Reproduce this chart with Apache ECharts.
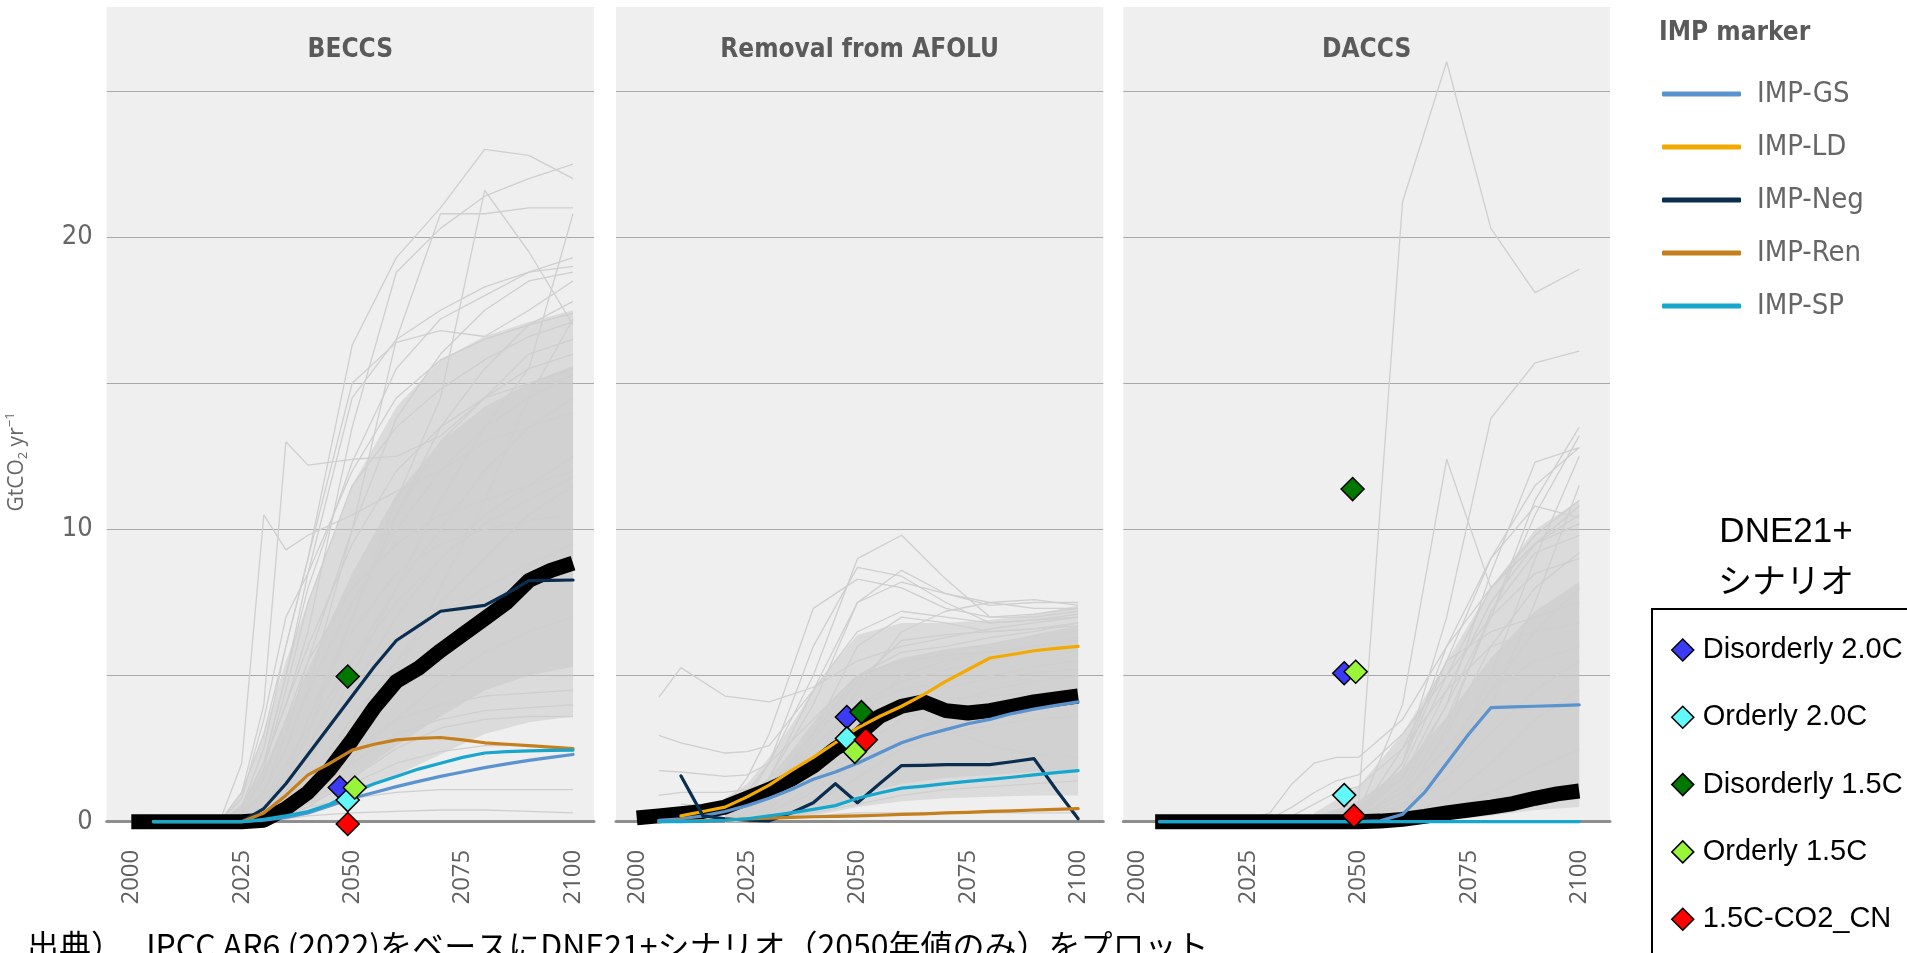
<!DOCTYPE html>
<html><head><meta charset="utf-8">
<script src="https://cdn.jsdelivr.net/npm/echarts@6/dist/echarts.min.js"></script>
<style>html,body{margin:0;padding:0;background:#fff}#c{width:1907px;height:953px}</style>
</head><body><div id="c"></div>
<script>
// ---------------- data ----------------
const PANELS = ['BECCS', 'Removal from AFOLU', 'DACCS'];
const YEAR_TICKS = [2000, 2025, 2050, 2075, 2100];
const Y_TICK_LABELS = [0, 10, 20];
const IMP_NAMES = ['IMP-GS', 'IMP-LD', 'IMP-Neg', 'IMP-Ren', 'IMP-SP'];
const SCEN_NAMES = ['Disorderly 2.0C', 'Orderly 2.0C', 'Disorderly 1.5C', 'Orderly 1.5C', '1.5C-CO2_CN'];

// IMP pathways
const IMP_YEARS = [2005,2010,2015,2020,2025,2030,2035,2040,2045,2050,2055,2060,2065,2070,2075,2080,2085,2090,2095,2100];
const beccsImpGS  = [0,0,0,0,0,0.05,0.15,0.3,0.55,0.8,1.0,1.2,1.38,1.55,1.7,1.85,1.98,2.1,2.2,2.3];
const beccsImpNeg = [0,0,0,0,0,0.45,1.3,2.3,3.3,4.3,5.3,6.2,6.7,7.2,7.3,7.4,7.8,8.25,8.26,8.27];
const beccsImpRen = [0,0,0,0,0,0.3,0.9,1.6,2.0,2.45,2.65,2.8,2.85,2.88,2.8,2.7,2.65,2.6,2.55,2.5];
const beccsImpSP  = [0,0,0,0,0,0.08,0.2,0.35,0.6,1.0,1.3,1.55,1.8,2.0,2.2,2.35,2.4,2.42,2.44,2.45];
const afoluImpGS  = [0.05,0.1,0.2,0.35,0.55,0.8,1.1,1.45,1.7,2.0,2.35,2.7,2.95,3.15,3.35,3.5,3.7,3.85,3.98,4.1];
const afoluImpLD  = [null,0.2,0.35,0.5,0.85,1.25,1.75,2.2,2.7,3.2,3.6,3.95,4.35,4.8,5.2,5.6,5.72,5.85,5.93,6.0];
const afoluImpNeg = [null,1.57,0.2,0.1,0.05,0.03,0.3,0.65,1.3,0.65,1.3,1.92,1.93,1.95,1.95,1.95,2.05,2.16,1.1,0.1];
const afoluImpRen = [0,0.02,0.03,0.05,0.1,0.12,0.15,0.17,0.18,0.2,0.22,0.25,0.27,0.3,0.32,0.35,0.37,0.4,0.42,0.45];
const afoluImpSP  = [0,0,0.02,0.05,0.1,0.2,0.3,0.42,0.55,0.8,0.98,1.15,1.22,1.3,1.38,1.45,1.52,1.6,1.68,1.75];
const daccsImpGS  = [0,0,0,0,0,0,0,0,0,0,0.03,0.25,1.0,2.0,3.0,3.9,3.93,3.95,3.97,4.0];
const daccsImpSP  = [0,0,0,0,0,0,0,0,0,0,0,0,0,0,0,0,0,0,0,0];

// DNE21+ model pathway (thick black)
const DNE_YEARS = [2000,2005,2010,2015,2020,2025,2030,2035,2040,2045,2050,2055,2060,2065,2070,2075,2080,2085,2090,2095,2100];
const DACCS_DNE_YEARS = [2004,2010,2015,2020,2025,2030,2035,2040,2045,2050,2055,2060,2065,2070,2075,2080,2085,2090,2095,2100];
const beccsDne = [0,0,0,0,0,0,0.05,0.45,1.0,1.8,2.8,3.9,4.8,5.25,5.85,6.4,6.95,7.5,8.25,8.6,8.85];
const afoluDne = [0.13,0.2,0.27,0.35,0.5,0.8,1.1,1.45,1.9,2.5,2.95,3.6,3.95,4.1,3.8,3.72,3.8,3.95,4.1,4.2,4.3];
const daccsDne = [0,0,0,0,0,0,0,0,0,0,0.02,0.08,0.18,0.3,0.4,0.5,0.62,0.8,0.95,1.05];

// DNE21+ scenario 2050 values [year, value]
const beccsMarkers = [[2047.2,1.17],[2049,0.74],[2049,4.97],[2050.6,1.17],[2049,-0.08]];
const afoluMarkers = [[2047.6,3.58],[2047.6,2.85],[2050.9,3.75],[2049.4,2.39],[2051.9,2.80]];
const daccsMarkers = [[2046.8,5.08],[2046.8,0.91],[2048.7,11.38],[2049.4,5.13],[2049,0.2]];

// AR6 scenario ensemble (grey)
const BECCS_GREY_YEARS = [2020,2025,2030,2035,2040,2050,2060,2070,2080,2090,2100];
const beccsGrey = [
 [0,1,3,6,9,16.3,19.3,21.0,23.0,22.8,22.0],
 [0,0.5,2,4,6.5,13.5,18.8,20.3,21.4,22.0,22.5],
 [0,0.3,1,2.5,4.5,10,16.5,20.8,20.8,21.0,21.0],
 [0,0,0.5,1.5,3,7,11,14.5,21.6,19.5,17.0],
 [0,0,0.3,1,2,5,8,11,13.5,15.5,20.8],
 [0,2,10.5,9.3,9.8,10.5,11.3,12,13,13.5,14],
 [0,1,4,13.0,12.2,12.4,12.5,13.2,14.5,15.5,16],
 [0,0.5,2,5,8,12.3,15.5,17.2,18.0,18.8,19.3],
 [0,0.2,1,3,5.5,10,13.8,16.0,17.5,18.5,18.8],
 [0,0,0.5,1.5,3,7,10.5,13.5,15.5,17.0,17.8],
 [0,0,0.2,0.5,1,2.5,5,8,11,14.5,17.2],
 [0,0,0,0.1,0.2,0.3,0.35,0.4,0.4,0.35,0.3],
 [0,0,0.1,0.3,0.5,0.8,1.0,1.1,1.1,1.1,1.1],
 [0,0,0.1,0.3,0.6,1.3,2.0,2.4,2.6,2.6,2.5],
 [0,0,0.2,0.6,1.2,2.5,3.5,4.0,4.3,4.4,4.5],
 [0,0.3,1.5,3.5,5.5,8,9.5,10.5,11,11.5,12],
 [0,0,0.3,1.0,2.0,4.5,7,9,10.5,11.5,12.5],
 [0,0,0.5,1.5,3.5,6.5,8.5,9.5,10.0,10.3,10.5],
 [0,0,0.2,0.8,1.5,3.5,5.5,7,8,8.8,9.5],
 [0,0.5,2,4,6,9.5,12,13.5,14.5,15,15.5],
 [0,0,0.3,1,2.5,5.5,8,10,12,13.5,14.5],
 [0,0,0.1,0.4,1,2.2,3.5,4.8,5.8,6.5,7.0],
 [0,0,0.2,0.6,1.5,3.5,5.5,7.5,9,10.5,11.5],
 [0,0.2,1,2.5,4.5,7.5,10,12,13.5,14.5,15.3],
 [0,0,0.5,1.8,3.5,7,10.5,13,14.5,16,16.5],
 [0,0.5,2,5,8.5,14.5,16.5,17.5,18.3,18.8,19.0],
 [0,0.5,2.5,6,9,15,16.4,16.8,16.6,17.5,18.5],
 [0,0,0.1,0.3,0.8,2,3,3.5,3.8,3.9,4.0],
 [0,0,0,0.2,0.5,1.5,2.5,3.2,3.5,3.6,3.6],
 [0,0.1,0.8,2,3.2,5.5,7.5,9,10.2,11,11.8],
 [0,0.8,3.5,7,8.5,12,14.5,15.8,16.5,17.0,17.4],
 [0,0.3,1.8,4.5,7.5,11.5,13.5,14.8,15.8,16.6,17.1]
];
const BECCS_BAND_YEARS = [2020,2025,2030,2035,2040,2050,2060,2070,2080,2090,2100];
const beccsBandLow  = [0,0,0.05,0.2,0.4,0.9,1.6,2.3,3.0,3.4,3.6];
const beccsBandHigh = [0,1.0,3.0,5.5,7.5,11.5,14.2,15.8,16.6,17.1,17.5];
const beccsCoreLow  = [0,0,0.1,0.3,0.6,1.5,2.6,3.6,4.5,5.0,5.3];
const beccsCoreHigh = [0,0.6,1.8,3.5,5.2,8.5,11.2,13.0,14.2,15.0,15.6];

const AFOLU_GREY_YEARS = [2005,2010,2020,2025,2030,2040,2050,2060,2070,2080,2090,2100];
const afoluGrey = [
 [null,null,0.5,1,2,5,9.0,9.8,8.3,7.0,7.0,7.2],
 [4.25,5.27,4.3,4.2,4.1,4.6,5.5,6.0,6.3,6.6,6.8,7.0],
 [2.95,2.7,2.35,2.4,2.6,4.5,6.5,7.2,7.0,6.8,6.9,7.0],
 [1.75,1.7,1.55,1.6,2.0,3.5,5.0,5.8,6.0,6.3,6.5,6.8],
 [null,null,0.3,0.8,2,6,8.7,8.4,7.5,6.8,6.9,7.1],
 [null,null,0.5,1.5,3,7.3,8.3,8.0,7.3,7.0,7.1,7.3],
 [null,null,0.2,0.5,1.5,4,7.5,8.6,7.8,7.4,7.5,7.5],
 [null,null,0,0.2,0.6,2,4.5,6.5,7.2,7.5,7.6,7.4],
 [null,null,0,0.1,0.3,1,2.5,3.5,4,4.5,4.8,5],
 [null,null,0,0.1,0.2,0.6,1.5,2.5,3.0,3.3,3.5,3.6],
 [null,null,0,0,0.1,0.3,0.6,0.9,1.1,1.2,1.3,1.4],
 [null,null,0,0,0.1,0.2,0.3,0.3,0.3,0.3,0.3,0.3],
 [null,null,0.3,0.6,1.2,3,5,5.5,5.7,5.8,6.0,6.2],
 [null,null,0,0.2,0.5,1.5,3.5,5,5.5,5.8,6.0,6.3],
 [null,null,0.1,0.3,0.8,2.5,4,4.5,4.8,5.0,5.3,5.5],
 [null,null,0,0.1,0.3,1,2,2.8,3.5,4,4.3,4.5],
 [null,null,0.3,0.7,1.5,4.5,7.5,8.2,7.8,7.5,7.3,7.3],
 [null,null,0,0.3,1,3,6,7,6.8,6.5,6.6,6.8],
 [null,0.6,0.5,0.6,0.9,2.2,3.5,4.0,4.2,4.3,4.4,4.5],
 [null,null,0,0.1,0.3,1.2,2.8,3.8,3.2,2.6,2.3,2.2],
 [0.9,1.0,1.0,1.1,1.3,2.5,4.0,4.8,5.2,5.5,5.8,6.0],
 [null,null,0.2,0.4,0.9,2.8,4.8,6.2,6.4,6.5,6.6,6.7],
 [null,null,0,0.1,0.4,1.8,3.2,4.2,4.6,4.9,5.1,5.2]
];
const AFOLU_BAND_YEARS = [2020,2025,2030,2035,2040,2045,2050,2060,2070,2080,2090,2100];
const afoluBandLow  = [0,0,0.05,0.1,0.2,0.35,0.5,0.7,0.8,0.85,0.9,0.9];
const afoluBandHigh = [0.8,1.3,2.2,3.3,4.5,5.5,6.4,6.8,6.8,6.9,7.1,7.4];
const afoluCoreLow  = [0,0,0.1,0.2,0.35,0.6,0.9,1.3,1.5,1.6,1.7,1.8];
const afoluCoreHigh = [0.5,0.9,1.5,2.4,3.4,4.3,5.0,5.6,5.9,6.1,6.4,6.7];

const DACCS_GREY_YEARS = [2020,2025,2030,2035,2040,2045,2050,2060,2070,2080,2090,2100];
const daccsGrey = [
 [0,0,0,0,0,0.1,0.5,21.2,26.0,20.3,18.1,18.9],
 [0,0,0,0,0,0,0.2,2,7,13.8,15.7,16.1],
 [0,0,0,0,0,0,0.3,4,12.4,8.0,9.5,10.8],
 [0,0.1,0.3,1.3,2.0,2.2,2.2,3.5,6,8,9.5,10.2],
 [0,0,0.1,0.5,1.0,1.4,1.6,3,5,7,8.5,9],
 [0,0,0,0,0.1,0.3,0.5,1.5,4,7,11,13.5],
 [0,0,0,0,0,0,0.2,1,3.5,7,10.5,13.2],
 [0,0,0,0,0,0.1,0.3,2,6,9,11.5,12.8],
 [0,0,0,0,0,0,0.1,0.5,2,5,9,12.5],
 [0,0,0,0,0,0,0.2,1.5,4.5,7.5,9.5,10.5],
 [0,0,0,0,0,0,0.1,0.8,3,6,8,9.2],
 [0,0,0,0,0,0,0,0.3,1.5,4,7.5,11.5],
 [0,0,0,0,0,0,0.1,1,2.5,4.5,5.5,6],
 [0,0,0,0,0,0,0,0.2,0.8,2,3.5,4.5],
 [0,0,0,0,0,0,0,0.1,0.4,1,1.8,2.5],
 [0,0,0,0,0,0,0.1,0.5,1.5,3,4.5,5.5],
 [0,0,0,0,0,0.05,0.2,2.5,5.5,6.5,7,7.5],
 [0,0,0,0,0,0,0,0,0.2,0.5,0.8,1.0],
 [0,0,0,0,0,0,0.2,2,5.5,9,10.8,10.4],
 [0,0,0,0.2,0.6,1.0,1.2,2.5,4.5,6,6.5,6.8],
 [0,0,0,0,0,0,0.1,1.2,4,8.5,12.3,12.8],
 [0,0,0,0,0,0,0,0.3,2,4.5,6.5,8.0],
 [0,0,0,0,0,0,0.1,1.8,5,8,9.8,11.0],
 [0,0,0,0,0,0,0.1,0.6,3.2,7.2,9.2,9.8]
];
const DACCS_BAND_YEARS = [2040,2050,2060,2070,2080,2090,2100];
const daccsBandLow  = [0,0,0,0.05,0.2,0.4,0.5];
const daccsBandHigh = [0.3,1.2,3.0,5.5,8.0,10.0,11.0];
const daccsCoreLow  = [0,0,0.05,0.2,0.5,0.9,1.2];
const daccsCoreHigh = [0.15,0.7,1.8,3.6,5.6,7.2,8.2];

// ---------------- styles / layout ----------------
const IMP_COLORS = {'IMP-GS':'#5b93cf','IMP-LD':'#f2a900','IMP-Neg':'#0b2d4f','IMP-Ren':'#c57f1c','IMP-SP':'#17a7cd'};
const SCEN_COLORS = ['#3b3bf5','#62f8f8','#007800','#99f53a','#ff0000'];
const PANEL_LEFT = [106.7, 616, 1123.3];
const PANEL_W = [487.3, 487.3, 486.7];
const X_MIN = [1994.43, 1995.3, 1996.79];
const X_MAX = [2104.75, 2105.7, 2106.97];
const GRID_TOP = 91, GRID_H = 730.7;
const NARROW = "'Liberation Sans Narrow','Arial Narrow','DejaVu Sans Condensed',sans-serif";
const SANS = "'Liberation Sans',Arial,sans-serif";
const OPEN = "'Open Sans',sans-serif";
const GREY = '#cfcfcf';
const BAND = 'rgba(200,200,200,0.5)';

const pair = (xs, ys) => xs.map((x, i) => [x, ys[i] == null ? null : ys[i]]);

const panelData = [
  {greyYears: BECCS_GREY_YEARS, grey: beccsGrey, bandYears: BECCS_BAND_YEARS,
   bands: [[beccsBandLow, beccsBandHigh], [beccsCoreLow, beccsCoreHigh]],
   dneYears: DNE_YEARS, dne: beccsDne, markers: beccsMarkers,
   imp: [['IMP-GS', beccsImpGS], ['IMP-Neg', beccsImpNeg], ['IMP-Ren', beccsImpRen], ['IMP-SP', beccsImpSP]]},
  {greyYears: AFOLU_GREY_YEARS, grey: afoluGrey, bandYears: AFOLU_BAND_YEARS,
   bands: [[afoluBandLow, afoluBandHigh], [afoluCoreLow, afoluCoreHigh]],
   dneYears: DNE_YEARS, dne: afoluDne, markers: afoluMarkers,
   imp: [['IMP-GS', afoluImpGS], ['IMP-LD', afoluImpLD], ['IMP-Neg', afoluImpNeg], ['IMP-Ren', afoluImpRen], ['IMP-SP', afoluImpSP]]},
  {greyYears: DACCS_GREY_YEARS, grey: daccsGrey, bandYears: DACCS_BAND_YEARS,
   bands: [[daccsBandLow, daccsBandHigh], [daccsCoreLow, daccsCoreHigh]],
   dneYears: DACCS_DNE_YEARS, dne: daccsDne, markers: daccsMarkers,
   imp: [['IMP-GS', daccsImpGS], ['IMP-SP', daccsImpSP]]}
];

const series = [];
panelData.forEach((p, i) => {
  const ax = {xAxisIndex: i, yAxisIndex: i};
  // density bands of the ensemble, drawn as polygons through the axis scales
  p.bands.forEach(([low, high], b) => {
    series.push(Object.assign({type: 'custom', name: 'band-' + i + '-' + b, silent: true, clip: false, z: 1,
      data: [[p.bandYears[0], 0]],
      renderItem: (params, api) => {
        const pts = [];
        p.bandYears.forEach((y, k) => pts.push(api.coord([y, high[k]])));
        for (let k = p.bandYears.length - 1; k >= 0; k--) pts.push(api.coord([p.bandYears[k], low[k]]));
        return {type: 'polygon', shape: {points: pts}, style: {fill: BAND}};
      }}, ax));
  });
  p.grey.forEach((vals, k) => {
    series.push(Object.assign({type: 'line', name: 'grey-' + i + '-' + k, data: pair(p.greyYears, vals),
      symbol: 'none', clip: false, silent: true, lineStyle: {color: GREY, width: 1.3}, z: 2}, ax));
  });
  series.push(Object.assign({type: 'line', name: 'DNE21+', data: pair(p.dneYears, p.dne), symbol: 'none', clip: false, silent: true,
    lineStyle: {color: '#000', width: 15, cap: 'butt', join: 'round'}, z: 3}, ax));
  p.imp.forEach(([nm, vals]) => {
    series.push(Object.assign({type: 'line', name: nm, data: pair(IMP_YEARS, vals), symbol: 'none', clip: false, silent: true,
      itemStyle: {color: IMP_COLORS[nm]}, lineStyle: {color: IMP_COLORS[nm], width: 3.2, cap: 'round', join: 'round'}, z: 4}, ax));
  });
  p.markers.forEach((m, s) => {
    series.push(Object.assign({type: 'scatter', name: SCEN_NAMES[s], data: [m], symbol: 'diamond', symbolSize: 23, clip: false, silent: true,
      itemStyle: {color: SCEN_COLORS[s], borderColor: '#000', borderWidth: 1.5, opacity: 1}, z: 5}, ax));
  });
});

const graphics = [];
PANELS.forEach((t, i) => {
  graphics.push({type: 'rect', z: -10, silent: true, shape: {x: PANEL_LEFT[i], y: 7, width: PANEL_W[i], height: 815}, style: {fill: '#f0efef'}});
  graphics.push({type: 'text', z: 10, silent: true, x: PANEL_LEFT[i] + PANEL_W[i] / 2, y: 50,
    style: {text: t, fill: '#5a5a5a', fontSize: 26, fontWeight: 'bold', fontFamily: NARROW, align: 'center', verticalAlign: 'middle'}});
});
graphics.push({type: 'text', silent: true, x: 17, y: 462, rotation: Math.PI / 2,
  style: {text: '{a|GtCO}{b|2}{a| yr}{c|\u22121}', align: 'center', verticalAlign: 'middle',
    rich: {
      a: {fill: '#666', fontSize: 21, lineHeight: 26, verticalAlign: 'middle', fontFamily: OPEN},
      b: {fill: '#666', fontSize: 13, lineHeight: 14, verticalAlign: 'bottom', fontFamily: OPEN},
      c: {fill: '#666', fontSize: 13, lineHeight: 14, verticalAlign: 'top', fontFamily: OPEN}
    }}});
graphics.push({type: 'text', silent: true, x: 1659, y: 33,
  style: {text: 'IMP marker', fill: '#5a5a5a', fontSize: 26, fontWeight: 'bold', fontFamily: NARROW, align: 'left', verticalAlign: 'middle'}});
graphics.push({type: 'text', silent: true, x: 1786, y: 532,
  style: {text: 'DNE21+', fill: '#000', fontSize: 35, fontFamily: SANS, align: 'center', verticalAlign: 'middle'}});
graphics.push({type: 'text', silent: true, x: 1786, y: 580,
  style: {text: 'シナリオ', fill: '#000', fontSize: 34, fontFamily: "'Noto Sans CJK JP',sans-serif", align: 'center', verticalAlign: 'middle'}});
graphics.push({type: 'rect', silent: true, z: 0, shape: {x: 1652, y: 609, width: 320, height: 400}, style: {fill: '#fff', stroke: '#000', lineWidth: 2}});
graphics.push({type: 'text', silent: true, x: 27, y: 946,
  style: {text: '出典）\u3000 IPCC AR6 (2022)をベースにDNE21+シナリオ（2050年値のみ）をプロット', fill: '#000', fontSize: 32, fontFamily: "'Noto Sans CJK JP',sans-serif", align: 'left', verticalAlign: 'middle'}});

const option = {
  animation: false,
  backgroundColor: '#ffffff',
  grid: PANELS.map((t, i) => ({left: PANEL_LEFT[i], width: PANEL_W[i], top: GRID_TOP, height: GRID_H, containLabel: false})),
  xAxis: PANELS.map((t, i) => ({
    gridIndex: i, type: 'value', min: X_MIN[i], max: X_MAX[i],
    splitLine: {show: false}, axisTick: {show: false},
    axisLine: {show: true, onZero: true, lineStyle: {color: '#8e8e8e', width: 3}},
    axisLabel: {customValues: YEAR_TICKS, formatter: v => String(v), rotate: 90, margin: 28, color: '#606060', fontSize: 24, fontFamily: OPEN}
  })),
  yAxis: PANELS.map((t, i) => ({
    gridIndex: i, type: 'value', min: 0, max: 25, interval: 5,
    axisLine: {show: false}, axisTick: {show: false},
    splitLine: {show: true, lineStyle: {color: '#a9a9a9', width: 1}},
    axisLabel: {show: i === 0, customValues: Y_TICK_LABELS, formatter: v => String(v), margin: 14, color: '#666', fontSize: 27, fontFamily: NARROW}
  })),
  legend: [
    {data: IMP_NAMES, orient: 'vertical', left: 1657, top: 72, itemWidth: 79, itemHeight: 5, itemGap: 19,
     icon: 'roundRect', selectedMode: false,
     textStyle: {fontSize: 29, lineHeight: 34, color: '#666', fontFamily: NARROW, padding: [0, 0, 0, 11]}},
    {data: SCEN_NAMES, orient: 'vertical', left: 1666, top: 627, itemWidth: 22, itemHeight: 22, itemGap: 31.3,
     icon: 'diamond', selectedMode: false,
     itemStyle: {borderColor: '#000', borderWidth: 1.5},
     textStyle: {fontSize: 29, lineHeight: 36, color: '#000', fontFamily: SANS, padding: [0, 0, 0, 4]}}
  ],
  graphic: {elements: graphics},
  series: series
};
const chart = echarts.init(document.getElementById('c'), null, {renderer: 'canvas', width: 1907, height: 953});
chart.setOption(option);
</script></body></html>
